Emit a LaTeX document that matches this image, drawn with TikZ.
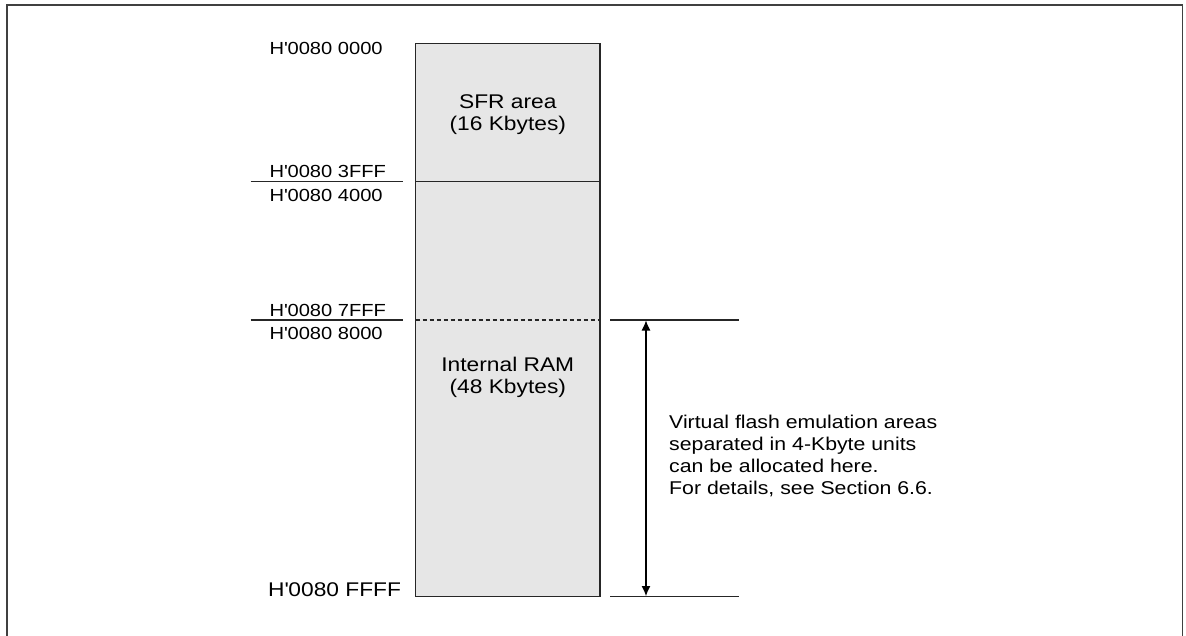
\documentclass[tikz,border=0pt]{standalone}
\usepackage{fontspec}
\setmainfont[FakeStretch=1.15]{Liberation Sans}
\usetikzlibrary{arrows.meta}
\definecolor{areafill}{HTML}{E6E6E6}
\definecolor{framegray}{HTML}{404040}
\newcommand{\hq}{H\textquotesingle}
\tikzset{
  addr/.style={anchor=base west, inner sep=0pt, font=\fontsize{17.5}{21}\selectfont},
  bigaddr/.style={anchor=base west, inner sep=0pt, font=\fontsize{19.8}{22}\selectfont},
  areatext/.style={anchor=base, inner sep=0pt, font=\fontsize{19.8}{22}\selectfont},
  note/.style={anchor=base west, inner sep=0pt, font=\fontsize{18.5}{22}\selectfont},
  rule/.style={line width=1.1pt, black!85},
  span/.style={line width=1.1pt, {Latex[length=10pt,width=9pt]}-{Latex[length=10pt,width=9pt]}}
}
\begin{document}
\begin{tikzpicture}[x=1pt,y=-1pt]
\useasboundingbox (0,0) rectangle (1186,635);
% outer frame
\draw[framegray, line width=1.5pt] (7,640) -- (7,5) -- (1182.5,5) -- (1182.5,640);
% memory areas
\draw[rule, fill=areafill] (415.7,43.3) rectangle (600,596.7);
\coordinate (boxL) at (415.7,181.7);
\coordinate (boxR) at (600,181.7);
\draw[rule] (boxL) -- (boxR);
\coordinate (dashL) at (415.7,320);
\coordinate (dashR) at (600,320);
\draw[rule, dashed, dash pattern=on 4pt off 3pt] (dashL) -- (dashR);
% left boundary lines
\coordinate (l1a) at (250.5,181.7); \coordinate (l1b) at (403,181.7);
\draw[rule] (l1a) -- (l1b);
\coordinate (l2a) at (250.5,320); \coordinate (l2b) at (403,320);
\draw[rule] (l2a) -- (l2b);
% right boundary lines
\coordinate (r1a) at (610,320); \coordinate (r1b) at (738.5,320);
\draw[rule] (r1a) -- (r1b);
\coordinate (r2a) at (610,596.5); \coordinate (r2b) at (738.5,596.5);
\draw[rule] (r2a) -- (r2b);
% span arrow
\coordinate (atop) at (646,320.5);
\coordinate (abot) at (646,596);
\draw[span] (atop) -- (abot);
% address labels
\node[addr] (a0) at (269.5,54) {\hq0080 0000};
\node[addr] (a1) at (269.5,177) {\hq0080 3FFF};
\node[addr] (a2) at (269.5,201.5) {\hq0080 4000};
\node[addr] (a3) at (269.5,316.5) {\hq0080 7FFF};
\node[addr] (a4) at (269.5,339) {\hq0080 8000};
\node[bigaddr] (a5) at (268,596.5) {\hq0080 FFFF};
% area labels
\node[areatext] (sfr1) at (507.8,108.3) {SFR area};
\node[areatext] (sfr2) at (507.8,130.3) {(16 Kbytes)};
\node[areatext] (ram1) at (507.8,371.7) {Internal RAM};
\node[areatext] (ram2) at (507.8,393.7) {(48 Kbytes)};
% note
\node[note] (n1) at (669,428.3) {Virtual flash emulation areas};
\node[note] (n2) at (669,450.3) {separated in 4-Kbyte units};
\node[note] (n3) at (669,472.3) {can be allocated here.};
\node[note] (n4) at (669,494.3) {For details, see Section 6.6.};
\end{tikzpicture}
\end{document}
